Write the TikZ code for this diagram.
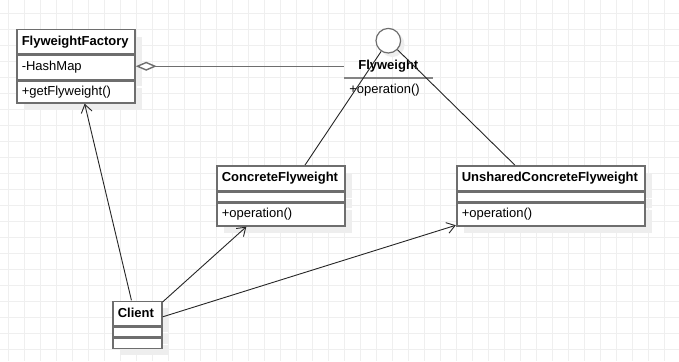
\documentclass[tikz,border=0pt]{standalone}
\usepackage{fontspec}
\setmainfont{Liberation Sans}
\usepackage{tikz}
\usetikzlibrary{arrows.meta,positioning,calc,fit,shadows}
\definecolor{umlInk}{HTML}{000000}
\definecolor{umlLine}{HTML}{6E6E6E}
\definecolor{umlGrid}{HTML}{EFEFEF}
\definecolor{umlShadow}{HTML}{EEEEEE}
\tikzset{
  % Class header (bold name)
  clshead/.style={rectangle,draw=umlLine,line width=1.5pt,fill=white,
    align=left,inner xsep=5pt,inner ysep=0pt,minimum height=24pt,
    font=\fontsize{13}{15}\selectfont\bfseries,text=umlInk,
    drop shadow={shadow xshift=7pt,shadow yshift=-7pt,fill=umlShadow,opacity=1}},
  % Class compartment (attributes / operations)
  clspart/.style={rectangle,draw=umlLine,line width=1.5pt,fill=white,
    align=left,inner xsep=5pt,inner ysep=0pt,
    font=\fontsize{13}{15}\selectfont,text=umlInk,
    drop shadow={shadow xshift=7pt,shadow yshift=-7pt,fill=umlShadow,opacity=1}},
  % Interface lollipop
  lolli/.style={circle,draw=umlLine,line width=1.2pt,fill=white,
    minimum size=24.6pt,inner sep=0pt,
    drop shadow={shadow xshift=4pt,shadow yshift=-4pt,fill=umlShadow,opacity=1}},
  % Whole class outline (for connectors)
  clsfit/.style={inner sep=0pt},
  % Connectors
  conn/.style={line width=0.9pt,color=umlInk!85},
  dep/.style={-{Straight Barb[length=8pt,width=11pt]},line width=0.9pt,color=umlInk!85},
  agg/.style={{Diamond[length=21pt,width=9pt,fill=white]}-,line width=1.4pt,color=umlLine},
  ifline/.style={line width=2pt,color=umlLine!85},
  gridln/.style={line width=0.9pt,color=umlGrid},
}
\begin{document}
\begin{tikzpicture}[x=1pt,y=-1pt]
  \useasboundingbox[fill=white] (0,0) rectangle (679,361);
  % Background grid
  \foreach \gx in {8,24,...,679} \draw[gridln] (\gx,0) -- (\gx,361);
  \foreach \gy in {13,29,...,361} \draw[gridln] (0,\gy) -- (679,\gy);

  % FlyweightFactory
  \node[clshead,anchor=north west,text width=108pt] (fhead) at (16,29) {FlyweightFactory};
  \node[clspart,below=0pt of fhead,text width=108pt,minimum height=24pt] (fattr) {-HashMap};
  \node[clspart,below=0pt of fattr,text width=108pt,minimum height=22pt] (fops) {+getFlyweight()};
  \node[clsfit,fit=(fhead)(fops)] (factory) {};

  % Flyweight interface
  \node[lolli] (fly) at (388.3,40.7) {};
  \node[font=\fontsize{13}{15}\selectfont\bfseries,inner sep=0pt,
    minimum width=88pt,minimum height=24pt] (flyname) at (factory.center -| fly) {Flyweight};
  \node[below=0pt of flyname,align=left,inner xsep=5pt,inner ysep=0pt,
    text width=78pt,minimum height=22pt,font=\fontsize{13}{15}\selectfont] (flyops) {+operation()};
  \draw[ifline] (flyops.north west) -- (flyops.north east);

  % ConcreteFlyweight
  \node[clshead,anchor=north west,text width=118pt,minimum height=25pt] (cfhead) at (216,165) {ConcreteFlyweight};
  \node[clspart,below=0pt of cfhead,text width=118pt,minimum height=9pt] (cfattr) {};
  \node[clspart,below=0pt of cfattr,text width=118pt,minimum height=23pt] (cfops) {+operation()};
  \node[clsfit,fit=(cfhead)(cfops)] (cf) {};

  % UnsharedConcreteFlyweight
  \node[clshead,anchor=north west,text width=178pt,minimum height=25pt] (ucfhead) at (456,165) {UnsharedConcreteFlyweight};
  \node[clspart,below=0pt of ucfhead,text width=178pt,minimum height=9pt] (ucfattr) {};
  \node[clspart,below=0pt of ucfattr,text width=178pt,minimum height=23pt] (ucfops) {+operation()};
  \node[clsfit,fit=(ucfhead)(ucfops)] (ucf) {};

  % Client
  \node[clshead,anchor=north west,text width=39pt] (chead) at (112,300.5) {Client};
  \node[clspart,below=0pt of chead,text width=39pt,minimum height=10pt] (cattr) {};
  \node[clspart,below=0pt of cattr,text width=39pt,minimum height=10pt] (cops) {};
  \node[clsfit,fit=(chead)(cops)] (client) {};

  % Aggregation and realisations
  \draw[agg] (factory) -- (flyname);
  \draw[conn] (fly) -- ($(cfhead.north west)!0.6875!(cfhead.north east)$);
  \draw[conn] (fly) -- ($(ucfhead.north west)!0.31!(ucfhead.north east)$);

  % Client dependencies
  \draw[dep] (client) -- (factory);
  \draw[dep] (client) -- (cf);
  \draw[dep] (client) -- (ucf);
\end{tikzpicture}
\end{document}
